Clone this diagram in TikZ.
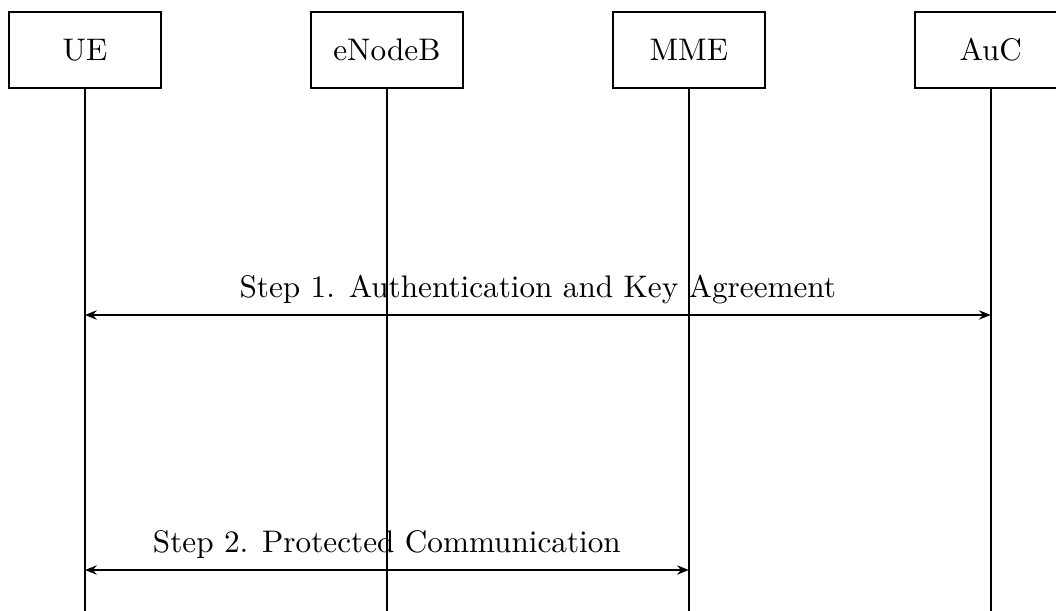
\documentclass[tikz,border=0pt]{standalone}
\usetikzlibrary{positioning,arrows.meta}
\begin{document}
\begin{tikzpicture}[>={Stealth[length=3.8pt,width=3pt,inset=1.3pt]}, line width=0.5pt]

    \tikzset{%
    entity/.style={
        rectangle,
        draw,
        minimum width=1.71cm,
        minimum height=0.856cm
        },
    }

    \useasboundingbox (-0.957,0) rectangle (10.935,-6.87);

    % Entity boxes, lifeline ends and message points
    \foreach \m/\l [count=\y] in {ue/UE,enb/eNodeB,mme/MME,auc/AuC}
    {
    \node [entity] (\m) at (3.4*\y-3.4,-0.563) {\l};
    \coordinate (\m-end) at (3.4*\y-3.4,-7);
    \coordinate (\m-1) at (3.4*\y-3.4,-3.547);
    \coordinate (\m-2) at (3.4*\y-3.4,-6.419);
    }

    % Lifelines
    \foreach \m in {ue,enb,mme,auc}
    \draw (\m) -- (\m-end);

    % Messages
    \draw [<->] (ue-1) -- (auc-1) node [above, midway] {Step 1. Authentication and Key Agreement};
    \draw [<->] (ue-2) -- (mme-2) node [above, midway] {Step 2. Protected Communication};

\end{tikzpicture}
\end{document}
